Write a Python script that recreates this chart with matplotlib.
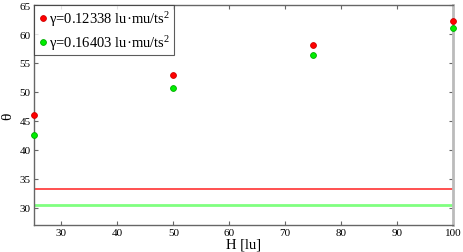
import matplotlib
matplotlib.use("Agg")
import matplotlib.pyplot as plt

H = [25, 50, 75, 100]
theta_red = [46.0, 52.9, 58.1, 62.3]
theta_green = [42.6, 50.6, 56.4, 61.0]
line_red = 33.2
line_green = 30.4
labels = ["γ=0.12338 lu·mu/ts$^2$", "γ=0.16403 lu·mu/ts$^2$"]

plt.rcParams['font.family'] = ['Liberation Serif', 'DejaVu Serif']
plt.rcParams['mathtext.fontset'] = 'custom'
plt.rcParams['mathtext.rm'] = 'Liberation Serif'
plt.rcParams['mathtext.it'] = 'Liberation Serif:italic'

fig = plt.figure(figsize=(4.63, 2.53), dpi=100)
ax = fig.add_axes([0.0724, 0.107, 0.906, 0.869])

ax.plot(H, theta_red, 'o', color='#ff0000', mec='#cc0000', ms=4.2, mew=0.6, label=labels[0], clip_on=False, zorder=5)
ax.plot(H, theta_green, 'o', color='#00ee00', mec='#00aa00', ms=4.2, mew=0.6, label=labels[1], clip_on=False, zorder=5)
ax.axhline(line_red, color='#ff2020', lw=1.1)
ax.axhline(line_green, color='#80ff80', lw=2.0)

ax.set_xlim(25, 100)
ax.set_ylim(27, 65)
ax.set_xticks([30, 40, 50, 60, 70, 80, 90, 100])
ax.set_yticks([30, 35, 40, 45, 50, 55, 60, 65])
ax.tick_params(direction='in', top=True, right=True, labelsize=8, length=3, color='#666666', pad=2)
for s in ['left', 'bottom', 'top']:
    ax.spines[s].set_color('#666666')
    ax.spines[s].set_linewidth(1.0)
ax.spines['right'].set_color('#bbbbbb')
ax.spines['right'].set_linewidth(2.0)

ax.set_xlabel('H [lu]', fontsize=10.5)
ax.xaxis.set_label_coords(0.5, -0.058)
ax.set_ylabel('θ', fontsize=11)
ax.yaxis.set_label_coords(-0.045, 0.5)

leg = ax.legend(loc='upper left', fontsize=10.5, frameon=True, fancybox=False, borderaxespad=0.0,
                handletextpad=0.0, handlelength=0.8, borderpad=0.25, labelspacing=0.35, markerscale=1.0)
leg.get_frame().set_edgecolor('#333333')
leg.get_frame().set_linewidth(0.8)

fig.savefig('out.png', dpi=100)
